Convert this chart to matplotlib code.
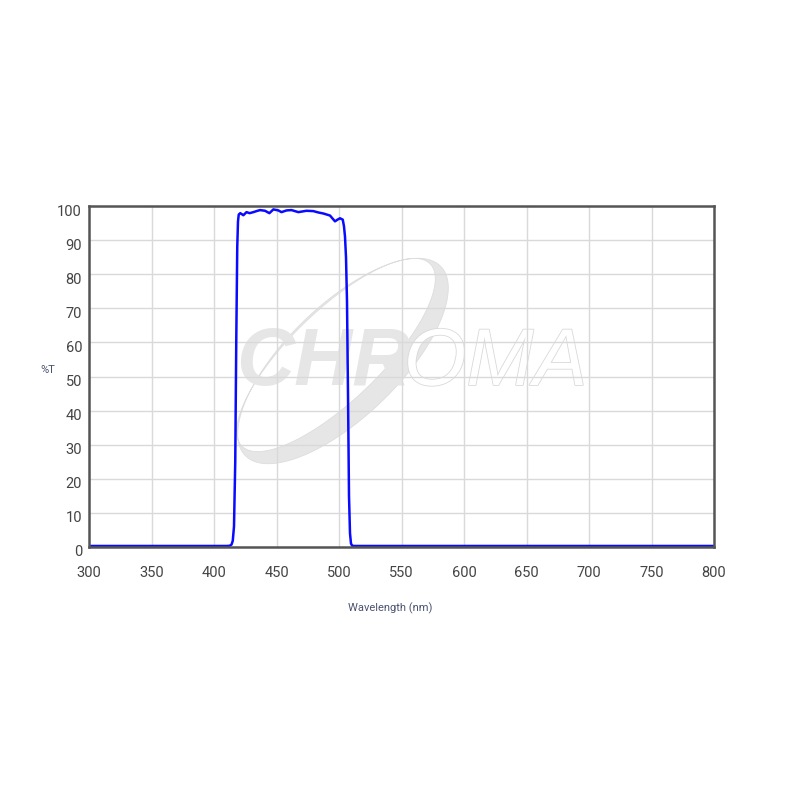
import numpy as np
import matplotlib
matplotlib.use("Agg")
import matplotlib.pyplot as plt
from matplotlib.path import Path
from matplotlib.patches import PathPatch
import matplotlib.patheffects as pe
from matplotlib.transforms import offset_copy

plt.rcParams['font.family'] = ['Roboto', 'DejaVu Sans']

# ---- data ----
wavelength = [300, 380, 410, 412.5, 414, 415, 416, 417, 417.8, 418.6, 419.2, 419.8,
              421, 423.5, 426, 428.5, 431.5, 434, 436.8, 440.8, 444.3, 447.5, 451.5,
              454, 458, 462, 467.5, 474, 479.5, 483.5, 487.5, 492.8, 496.8, 498.8,
              500.8, 503, 504, 504.8, 505.6, 506.4, 507.2, 508, 508.8, 509.6, 510.5,
              512, 600, 700, 800]
transmission = [0.3, 0.3, 0.3, 0.35, 0.7, 1.8, 6, 25, 60, 88, 95.5, 97.5,
                97.9, 97.3, 98.2, 97.9, 98.2, 98.5, 98.8, 98.6, 97.9, 99.0, 98.7,
                98.2, 98.7, 98.8, 98.2, 98.6, 98.5, 98.1, 97.8, 97.2, 95.5, 96.0,
                96.4, 96.0, 94.0, 91.0, 85.0, 72.0, 45.0, 15.0, 4.0, 1.0, 0.4,
                0.3, 0.3, 0.3, 0.3]
x_ticks = [300, 350, 400, 450, 500, 550, 600, 650, 700, 750, 800]
y_ticks = [0, 10, 20, 30, 40, 50, 60, 70, 80, 90, 100]
x_label = "Wavelength (nm)"
y_label = "%T"
watermark_left = "CHR"
watermark_right = "OMA"

fig = plt.figure(figsize=(8, 8), dpi=100)
ax = fig.add_axes([89/800, (800-547)/800, 625/800, 341/800])
ax.set_xlim(300, 800)
ax.set_ylim(0, 100)

# ---- watermark (decoration) ----
W, H = 625.0, 341.0
def to_ax(px, py):
    return (np.asarray(px) - 89) / W, (547 - np.asarray(py)) / H

t = np.linspace(0, 2*np.pi, 300)
ang = np.deg2rad(44)
def ellipse(cx, cy, a, b):
    ex = a*np.cos(t); ey = b*np.sin(t)
    X = cx + ex*np.cos(ang) - ey*np.sin(ang)
    Y = cy - (ex*np.sin(ang) + ey*np.cos(ang))
    return X, Y
ox, oy = ellipse(343, 361, 136, 56)
ix, iy = ellipse(336, 355, 131, 45)
oxa, oya = to_ax(ox, oy)
ixa, iya = to_ax(ix[::-1], iy[::-1])
verts = np.concatenate([np.column_stack([oxa, oya]), np.column_stack([ixa, iya])])
codes = ([Path.MOVETO] + [Path.LINETO]*(len(oxa)-2) + [Path.CLOSEPOLY]) * 2
crescent = PathPatch(Path(verts, codes), transform=ax.transAxes,
                     facecolor='#e6e6e6', edgecolor='#dddddd', lw=0.6, zorder=0.5)
ax.add_patch(crescent)

tx, ty = to_ax(410, 364)
ax.text(tx, ty, watermark_left, transform=ax.transAxes, ha='right', va='center',
        fontsize=58, fontweight='bold', style='italic', color='#e6e6e6',
        family=['Liberation Sans'], zorder=0.6)
ax.text(tx - 0.01, ty, watermark_right, transform=ax.transAxes, ha='left', va='center',
        fontsize=58, fontweight='normal', style='italic', color='white',
        family=['Liberation Sans'], zorder=0.6,
        path_effects=[pe.withStroke(linewidth=1.2, foreground='#d9d9d9')])

# ---- grid / spines ----
ax.set_xticks(x_ticks)
ax.set_yticks(y_ticks)
ax.grid(True, color='#d9d9d9', lw=1.0, zorder=1)
ax.set_axisbelow(False)
for s in ax.spines.values():
    s.set_color('#555555')
    s.set_linewidth(1.8)
    s.set_zorder(4)
ax.tick_params(length=0, labelsize=10.5, labelcolor='#444444')
ax.tick_params(axis='x', pad=14)
ax.tick_params(axis='y', pad=5)
for lab in ax.get_yticklabels():
    lab.set_transform(offset_copy(lab.get_transform(), fig=fig, x=0, y=-4, units='dots'))

ax.plot(wavelength, transmission, color='#0a0aff', lw=1.8, zorder=3,
        solid_joinstyle='round')

fig.text(48/800, 1 - 370/800, y_label, ha='center', va='center', fontsize=8,
         color='#4a5270')
fig.text(390/800, 1 - 608/800, x_label, ha='center', va='center', fontsize=8,
         color='#4a5270')

fig.savefig('out.png', dpi=100)
